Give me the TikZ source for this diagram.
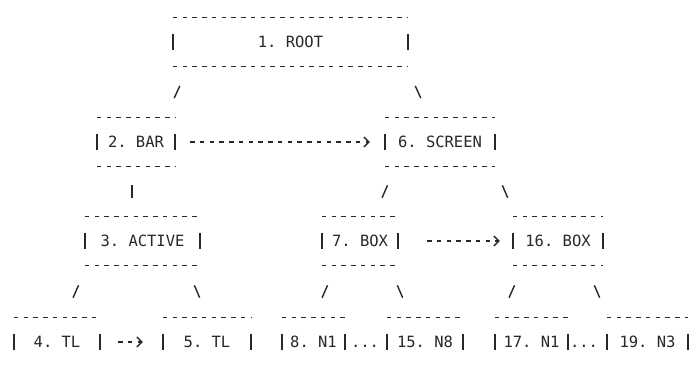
\documentclass[tikz,border=0pt]{standalone}
\usepackage{fontspec}
\setmonofont{DejaVu Sans Mono}
\usepackage{xcolor}
\usetikzlibrary{arrows.meta}
\definecolor{ink}{RGB}{40,40,40}

\tikzset{
  rec/.style={inner sep=0pt, minimum height=48pt, text height=11pt, text depth=0pt,
    font=\ttfamily\fontsize{15.5}{17}\selectfont, text=ink},
  hyph/.style={ink, line width=1.3pt, dash pattern=on 4.5pt off 5.25pt},
  side/.style={ink, line width=1.5pt},
  slant/.style={ink, line width=1.4pt, shorten <=#1, shorten >=#1},
  link/.style={hyph, -{Straight Barb[length=5pt,width=10pt,line width=1.3pt]}},
}

\begin{document}
\begin{tikzpicture}[x=1pt, y=-1pt]
  \useasboundingbox[fill=white] (0,0) rectangle (690,366);
  %% Tree records
  \node[rec, minimum width=235pt] (root)   at (290.5,42) {1. ROOT\hspace{18pt}};
  \node[rec, minimum width=78pt]  (bar)    at (136,142)  {2. BAR};
  \node[rec, minimum width=110pt] (screen) at (440,142)  {6. SCREEN};
  \node[rec, minimum width=115pt] (active) at (142.5,241) {3. ACTIVE};
  \node[rec, minimum width=76pt]  (box7)   at (360,241)  {7. BOX};
  \node[rec, minimum width=90pt]  (box16)  at (558,241)  {16. BOX};
  \node[rec, minimum width=86pt]  (tl4)    at (57,342)   {4. TL};
  \node[rec, minimum width=88pt]  (tl5)    at (207,342)  {5. TL};
  \node[rec, minimum width=63pt]  (n8)     at (313.5,342) {8. N1};
  \node[rec, minimum width=76pt]  (n15)    at (425,342)  {15. N8};
  \node[rec, minimum width=73pt]  (n17)    at (531.5,342) {17. N1};
  \node[rec, minimum width=81pt]  (n19)    at (647.5,342) {19. N3};
  \node[rec, minimum height=0pt]  (dotsa)  at (365,342)  {...};
  \node[rec, minimum height=0pt]  (dotsb)  at (584,342)  {...};
  %% Typed frame round each record
  \foreach \n in {root,bar,screen,active,box7,box16,tl4,tl5,n8,n15,n17,n19} {
    \draw[hyph] (\n.north west) -- (\n.north east);
    \draw[hyph] (\n.south west) -- (\n.south east);
    \draw[side] ([yshift=-16pt]\n.north west) -- ([yshift=16pt]\n.south west);
    \draw[side] ([yshift=-16pt]\n.north east) -- ([yshift=16pt]\n.south east);
  }
  %% Parent to child strokes
  \draw[slant=21.6pt] ([xshift=16pt]root.south west) -- ([xshift=-10pt]bar.north east);
  \draw[slant=21.6pt] ([xshift=-2pt]root.south east) -- ([xshift=45pt]screen.north west);
  \draw[slant=18.5pt] ([xshift=-4pt]bar.south) -- ([xshift=-10.5pt]active.north);
  \draw[slant=20.8pt] ([xshift=11pt]screen.south west) -- ([xshift=52pt]box7.north west);
  \draw[slant=20.8pt] ([xshift=-1pt]screen.south east) -- ([xshift=3pt]box16.north west);
  \draw[slant=21.9pt] ([xshift=2.5pt]active.south west) -- ([xshift=50.5pt]tl4.north west);
  \draw[slant=21.9pt] ([xshift=-14.5pt]active.south east) -- ([xshift=45.5pt]tl5.north west);
  \draw[slant=21.9pt] ([xshift=14.5pt]box7.south west) -- ([xshift=31.5pt]n8.north west);
  \draw[slant=21.9pt] ([xshift=-9.5pt]box7.south east) -- ([xshift=24.5pt]n15.north west);
  \draw[slant=21.9pt] ([xshift=10.5pt]box16.south west) -- ([xshift=5.5pt]n17.north west);
  \draw[slant=21.9pt] ([xshift=-17.5pt]box16.south east) -- ([xshift=1.5pt]n19.north west);
  %% Sibling links
  \draw[link, shorten <=15pt, shorten >=15pt] (bar.east) -- (screen.west);
  \draw[link, shorten <=29pt, shorten >=13pt] (box7.east) -- (box16.west);
  \draw[link, shorten <=18pt, shorten >=20pt] (tl4.east) -- (tl5.west);
\end{tikzpicture}
\end{document}
